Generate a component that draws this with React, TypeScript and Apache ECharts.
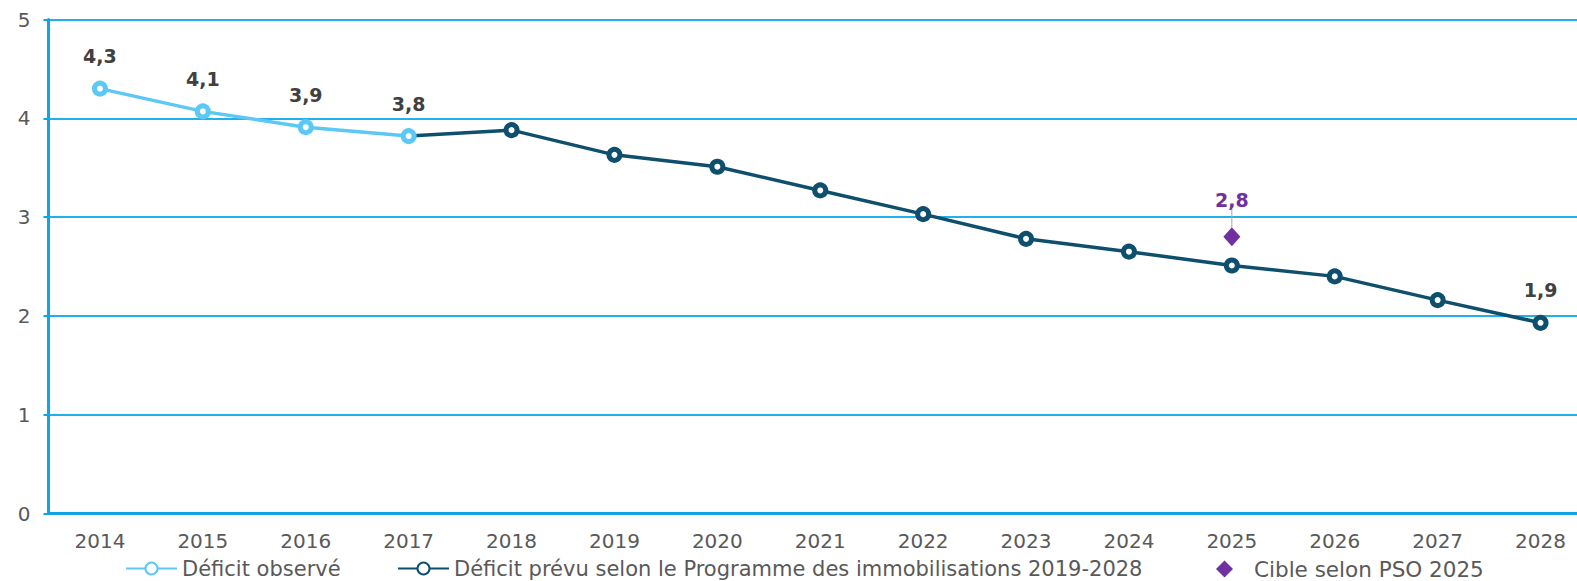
import React, { useEffect, useRef } from "react";
import * as echarts from "echarts";

const years = ["2014", "2015", "2016", "2017", "2018", "2019", "2020", "2021", "2022", "2023", "2024", "2025", "2026", "2027", "2028"];
const observed = [4.3, 4.07, 3.91, 3.82];
const forecast = [3.82, 3.88, 3.63, 3.51, 3.27, 3.03, 2.78, 2.65, 2.51, 2.4, 2.16, 1.93];
const targetYear = "2025";
const targetValue = 2.8;
const yTicks = [0, 1, 2, 3, 4, 5];

const nameObserved = "Déficit observé";
const nameForecast = "Déficit prévu selon le Programme des immobilisations 2019-2028";
const nameTarget = "Cible selon PSO 2025";

const FONT = "'DejaVu Sans', 'Liberation Sans', Arial, sans-serif";
const AXIS_BLUE = "#12a3e3";
const GRID_BLUE = "#22b0ec";
const LIGHT = "#5cc8f5";
const DARK = "#0d4f6c";
const PURPLE = "#7030a0";
const TXT = "#595959";

const fmt = (v: number) => v.toFixed(1).replace(".", ",");

export default function App() {
  const ref = useRef<HTMLDivElement>(null);
  useEffect(() => {
    if (!ref.current) return;
    const chart = echarts.init(ref.current, undefined, { renderer: "svg" });
    const obsData = years.map((_, i) => (i < observed.length ? observed[i] : null));
    const startF = years.length - forecast.length;
    const fData: any[] = years.map((_, i) => {
      if (i < startF) return null;
      const v = forecast[i - startF];
      if (i === startF) return { value: v, symbol: "none" };
      if (i === years.length - 1) return { value: v, label: { show: true } };
      return v;
    });
    const tIdx = years.indexOf(targetYear);
    const tData = years.map((_, i) => (i === tIdx ? targetValue : null));
    const labelStyle = {
      fontFamily: FONT,
      fontSize: 19,
      fontWeight: "bold" as const,
      color: "#404040",
    };
    const legendText = { color: TXT, fontSize: 21, fontFamily: FONT };
    chart.setOption({
      animation: false,
      textStyle: { fontFamily: FONT },
      grid: { left: 48.5, right: -15, top: 19.5, bottom: 67.5, containLabel: false, outerBoundsMode: "none" },
      legend: [
        {
          left: 120,
          top: 553,
          data: [nameObserved],
          itemWidth: 51,
          itemHeight: 15,
          textStyle: legendText,
        },
        {
          left: 392,
          top: 553,
          data: [nameForecast],
          itemWidth: 51,
          itemHeight: 15,
          textStyle: legendText,
        },
        {
          left: 1211,
          top: 553,
          data: [nameTarget],
          itemWidth: 17,
          itemHeight: 17,
          textStyle: { ...legendText, fontSize: 21.5, padding: [0, 0, 0, 16] },
        },
      ],
      xAxis: {
        type: "category",
        data: years,
        boundaryGap: true,
        axisTick: { show: false },
        axisLine: { lineStyle: { color: AXIS_BLUE, width: 3 } },
        axisLabel: { color: TXT, fontSize: 20, fontFamily: FONT, margin: 17 },
      },
      yAxis: {
        type: "value",
        min: yTicks[0],
        max: yTicks[yTicks.length - 1],
        interval: 1,
        axisLine: { show: true, lineStyle: { color: AXIS_BLUE, width: 3 } },
        axisTick: { show: true, length: 5, lineStyle: { color: AXIS_BLUE, width: 2 } },
        axisLabel: { color: TXT, fontSize: 20, fontFamily: FONT, margin: 18 },
        splitLine: { lineStyle: { color: GRID_BLUE, width: 2 } },
      },
      series: [
        {
          name: nameForecast,
          type: "line",
          data: fData,
          z: 2,
          symbol: "circle",
          symbolSize: 11,
          itemStyle: { color: "#ffffff", borderColor: DARK, borderWidth: 5 },
          lineStyle: { color: DARK, width: 3.5 },
          label: { show: false, position: "top", distance: 15, formatter: (p: any) => fmt(p.value), ...labelStyle },
        },
        {
          name: nameObserved,
          type: "line",
          data: obsData,
          z: 3,
          symbol: "circle",
          symbolSize: 11,
          itemStyle: { color: "#ffffff", borderColor: LIGHT, borderWidth: 5 },
          lineStyle: { color: LIGHT, width: 3.5 },
          label: { show: true, position: "top", distance: 15, formatter: (p: any) => fmt(p.value), ...labelStyle },
        },
        {
          name: nameTarget,
          type: "scatter",
          data: tData,
          z: 4,
          symbol: "diamond",
          symbolSize: [17, 19],
          itemStyle: { color: PURPLE, opacity: 1 },
          label: {
            show: true,
            position: "top",
            distance: 6,
            formatter: (p: any) => fmt(p.value),
            ...labelStyle,
            color: PURPLE,
          },
          labelLayout: { dy: -12 },
          labelLine: { show: true, lineStyle: { color: "#a6a6a6", width: 1 } },
        },
      ],
    });
    return () => chart.dispose();
  }, []);
  return (
    <div
      ref={ref}
      style={{ position: "fixed", left: 0, top: 0, width: 1577, height: 581, background: "#ffffff" }}
    />
  );
}
